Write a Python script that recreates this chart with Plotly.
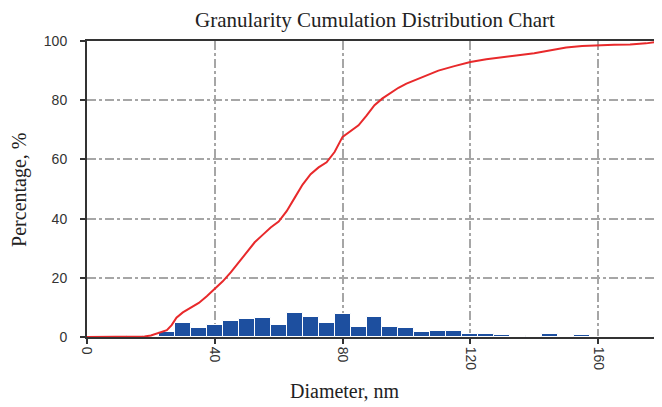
import plotly.graph_objects as go

# Histogram (bin centres, nm) and percentage per bin
bin_centres = [15, 20, 25, 30, 35, 40, 45, 50, 55, 60, 65, 70, 75, 80, 85, 90, 95,
               100, 105, 110, 115, 120, 125, 130, 135, 140, 145, 150, 155, 160,
               165, 170, 175, 180]
bin_percent = [0.2, 0.5, 1.6, 4.9, 2.9, 4.1, 5.3, 6.0, 6.5, 4.1, 8.1, 6.9, 4.6, 7.7,
               3.4, 6.6, 3.4, 2.9, 1.6, 1.9, 1.9, 1.1, 1.1, 0.7, 0.0, 0.3, 1.1, 0.0,
               0.8, 0.0, 0.0, 0.0, 0.0, 0.7]

# Cumulative distribution curve
cum_x = [0, 10, 15, 18, 20, 22.5, 25, 26.5, 28, 30, 32.5, 35, 37.5, 40, 42.5, 45,
         47.5, 50, 52.5, 55, 57.5, 60, 62.5, 65, 67.5, 70, 72.5, 75, 77.5, 80, 82.5,
         85, 87.5, 90, 92.5, 95, 97.5, 100, 105, 110, 115, 120, 125, 130, 135, 140,
         145, 150, 155, 160, 165, 170, 175, 180]
cum_y = [0, 0, 0, 0.2, 0.5, 1.3, 2.3, 4.0, 6.5, 8.3, 9.8, 11.5, 13.8, 16.4, 18.8,
         21.8, 25.2, 28.6, 32.0, 34.5, 37.0, 39.0, 42.5, 47.0, 51.5, 55.0, 57.3,
         59.0, 62.5, 67.6, 69.6, 71.5, 74.8, 78.3, 80.6, 82.4, 84.2, 85.6, 87.9,
         90.0, 91.5, 92.9, 93.8, 94.6, 95.2, 95.9, 96.9, 97.8, 98.3, 98.6, 98.7,
         98.8, 99.2, 99.9]

x_ticks = [0, 40, 80, 120, 160]
y_ticks = [0, 20, 40, 60, 80, 100]

fig = go.Figure()
fig.add_trace(go.Bar(
    x=bin_centres, y=bin_percent, width=5,
    marker=dict(color="#1d4f9f", line=dict(color="white", width=1)),
    showlegend=False,
))
fig.add_trace(go.Scatter(
    x=cum_x, y=cum_y, mode="lines",
    line=dict(color="#e8292b", width=2),
    showlegend=False,
))

# page body has an 8px margin; figure occupies 8..662 x 8..407
tickfont = dict(family="Liberation Sans, Arial", size=14, color="#333")
serif = "Liberation Serif, Times New Roman"
fig.update_layout(
    width=654, height=399,
    margin=dict(l=79, r=0, t=33, b=70),
    paper_bgcolor="white", plot_bgcolor="white",
    bargap=0,
    xaxis=dict(
        range=[0, 180], tickvals=x_ticks, ticktext=[str(v) for v in x_ticks],
        tickangle=90, tickfont=tickfont,
        ticks="outside", ticklen=5, tickcolor="#333", tickwidth=1.5,
        showline=True, linecolor="#333", linewidth=2, mirror=True,
        showgrid=True, gridcolor="#a6a6a6", gridwidth=1.5, griddash="dashdot",
        zeroline=False,
    ),
    yaxis=dict(
        range=[0, 100], tickvals=y_ticks, ticktext=[str(v) for v in y_ticks],
        tickfont=tickfont,
        ticks="outside", ticklen=5, tickcolor="#333", tickwidth=1.5,
        showline=True, linecolor="#333", linewidth=2,
        showgrid=True, gridcolor="#a6a6a6", gridwidth=1.5, griddash="dashdot",
        zeroline=False, ticklabelstandoff=10,
    ),
    annotations=[
        dict(text="Granularity Cumulation Distribution Chart", xref="paper", yref="paper",
             x=0.5, y=1, yshift=21, xanchor="center", yanchor="middle", showarrow=False,
             font=dict(family=serif, size=21, color="#222")),
        dict(text="Diameter, nm", xref="paper", yref="paper",
             x=(345 - 87) / 575, y=0, yshift=-54, xanchor="center", yanchor="middle",
             showarrow=False, font=dict(family=serif, size=20, color="#222")),
        dict(text="Percentage, %", xref="paper", yref="paper",
             x=0, xshift=-67, y=0.497, textangle=-90, xanchor="center", yanchor="middle",
             showarrow=False, font=dict(family=serif, size=20, color="#222")),
    ],
)

fig.write_html("out.html")
